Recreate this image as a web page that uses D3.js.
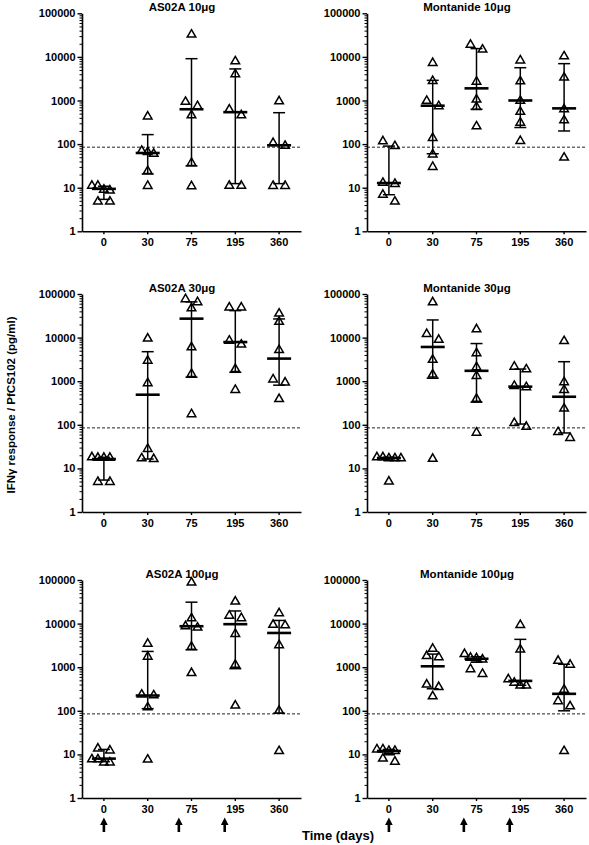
<!DOCTYPE html>
<html>
<head>
<meta charset="utf-8">
<script src="https://cdn.jsdelivr.net/npm/d3@7"></script>
<style>
  html, body { margin: 0; padding: 0; background: #fff; }
  svg { display: block; }
  text { font-family: Arial, "Liberation Sans", sans-serif; font-weight: bold; fill: #000; }
</style>
</head>
<body>
<svg id="chart" width="589" height="845"></svg>
<script>
// ---------------- DATA ----------------
const categories = ["0", "30", "75", "195", "360"];
const categoryDays = [0, 30, 75, 195, 360];
const yTickValues = [1, 10, 100, 1000, 10000, 100000];
const yTickLabels = ["1", "10", "100", "1000", "10000", "100000"];
const cutoff = 85;
const vaccinationDays = [0, 62, 166];

const panelTitles = ["AS02A 10\u03bcg", "Montanide 10\u03bcg", "AS02A 30\u03bcg", "Montanide 30\u03bcg", "AS02A 100\u03bcg", "Montanide 100\u03bcg"];

// individual responses (pg/ml), one list per time point
const pointsAS02A10 = [
  [11.1, 11.1, 9.0, 8.6, 4.8, 4.8],
  [430, 70, 66, 60, 24, 11],
  [32400, 930, 740, 458, 37, 10.8],
  [7900, 4000, 620, 458, 11.1, 11.1],
  [960, 106, 91, 11, 11]
];
const medianAS02A10 = [9.4, 62.5, 630, 540, 94];
const lowerAS02A10  = [5.4, 20.6, 31.6, 12.4, 12.4];
const upperAS02A10  = [10.8, 165, 9100, 5300, 525];

const pointsMont10 = [
  [116, 90, 12.9, 12.2, 6.9, 4.8],
  [7250, 2800, 980, 740, 138, 58, 30],
  [19000, 14700, 2700, 1050, 710, 255],
  [8300, 2750, 980, 550, 310, 118],
  [10300, 3350, 630, 350, 49]
];
const medianMont10 = [12.8, 760, 1900, 1000, 660];
const lowerMont10  = [6.9, 60, 630, 240, 200];
const upperMont10  = [90, 2900, 15500, 5650, 7000];

const pointsAS02A30 = [
  [18, 17.5, 17.5, 17.5, 4.9, 4.9],
  [9500, 2950, 900, 28, 17, 16.4],
  [76000, 65000, 47000, 6000, 1470, 175],
  [49000, 49000, 8500, 6900, 1900, 630],
  [35500, 23000, 5200, 1100, 930, 390]
];
const medianAS02A30 = [16.4, 490, 27200, 7900, 3300];
const lowerAS02A30  = [5.4, 16.4, 1230, 1600, 810];
const upperAS02A30  = [18, 4750, 66000, 41500, 26800];

const pointsMont30 = [
  [18, 18, 17, 17, 17, 5],
  [64500, 12100, 8900, 3100, 1420, 16.6],
  [15500, 4400, 2100, 1320, 395, 66],
  [2150, 1870, 780, 730, 110, 90],
  [8300, 950, 630, 235, 68, 50]
];
const medianMont30 = [17.3, 6100, 1730, 750, 440];
const lowerMont30  = [15.5, 1170, 330, 104, 65];
const upperMont30  = [18, 25400, 7300, 1900, 2800];

const pointsAS02A100 = [
  [13.6, 12.3, 7.7, 7.7, 6.5, 6.5],
  [3450, 1740, 235, 226, 120, 7.6],
  [87000, 13200, 8700, 8100, 2950, 735],
  [32000, 15200, 13300, 5800, 1140, 132],
  [17300, 9400, 9100, 3200, 100, 11.9]
];
const medianAS02A100 = [8, 224, 8700, 9700, 6100];
const lowerAS02A100  = [6.8, 112, 2500, 925, 88];
const upperAS02A100  = [13, 2300, 31000, 19500, 11800];

const pointsMont100 = [
  [13, 13, 12, 12, 8, 6.8],
  [2650, 1800, 1700, 400, 350, 215],
  [2000, 1650, 1600, 1500, 900, 700],
  [9300, 2550, 530, 440, 380, 380],
  [1400, 1140, 305, 166, 127, 11.9]
];
const medianMont100 = [12, 1050, 1560, 485, 245];
const lowerMont100  = [9.8, 320, 1300, 385, 100];
const upperMont100  = [13, 2000, 1740, 4350, 1170];

// ---------------- BUILD ----------------
const panels = [
  { title: panelTitles[0], points: pointsAS02A10, median: medianAS02A10, lower: lowerAS02A10, upper: upperAS02A10 },
  { title: panelTitles[1], points: pointsMont10, median: medianMont10, lower: lowerMont10, upper: upperMont10 },
  { title: panelTitles[2], points: pointsAS02A30, median: medianAS02A30, lower: lowerAS02A30, upper: upperAS02A30 },
  { title: panelTitles[3], points: pointsMont30, median: medianMont30, lower: lowerMont30, upper: upperMont30 },
  { title: panelTitles[4], points: pointsAS02A100, median: medianAS02A100, lower: lowerAS02A100, upper: upperAS02A100 },
  { title: panelTitles[5], points: pointsMont100, median: medianMont100, lower: lowerMont100, upper: upperMont100 }
];

const svg = d3.select("#chart");
const colX = [82, 367];
const rowY = [13.3, 294, 580];
const W = 219, H = 218;

const x = d3.scaleBand().domain(categories).range([0, W]).padding(0);
const y = d3.scaleLog().domain([1, 100000]).range([H, 0]);
const dayToX = d3.scaleLinear().domain(categoryDays).range(categories.map(c => x(c) + x.bandwidth() / 2));

const minorTicks = [];
for (let e = 0; e < 5; e++) for (let m = 2; m <= 9; m++) minorTicks.push(m * Math.pow(10, e));

const tri = d3.symbol().type(d3.symbolTriangle).size(32);

function laneOffsets(n) {
  if (n === 1) return [0];
  if (n === 2) return [-1, 1];
  const start = -Math.floor(n / 2);
  return d3.range(n).map(i => start + i);
}

panels.forEach((p, i) => {
  const col = i % 2, row = Math.floor(i / 2);
  const g = svg.append("g").attr("transform", `translate(${colX[col]},${rowY[row]})`);

  // title
  g.append("text").attr("x", W / 2 - 9.5).attr("y", -2.5)
    .attr("text-anchor", "middle").style("font-size", "11.5px").text(p.title);

  // cutoff line
  g.append("line").attr("x1", 0).attr("x2", W)
    .attr("y1", y(cutoff)).attr("y2", y(cutoff))
    .attr("stroke", "#222").attr("stroke-width", 1).attr("stroke-dasharray", "3,2");

  // minor y ticks
  const minorAxis = g.append("g").call(d3.axisLeft(y).tickValues(minorTicks).tickSize(2.5).tickFormat(""));
  minorAxis.select(".domain").remove();
  minorAxis.selectAll("line").attr("stroke", "#000").attr("stroke-width", 1);

  // major y axis
  const yAxis = g.append("g").call(
    d3.axisLeft(y).tickValues(yTickValues).tickSize(4.5).tickSizeOuter(0).tickPadding(2)
      .tickFormat((d, k) => yTickLabels[k])
  );
  yAxis.select(".domain").attr("stroke", "#000").attr("stroke-width", 1.6);
  yAxis.selectAll(".tick line").attr("stroke", "#000").attr("stroke-width", 1.4);
  yAxis.selectAll("text").style("font-size", "11px").style("font-family", "Arial, 'Liberation Sans', sans-serif").style("font-weight", "bold");

  // x axis
  const xAxis = g.append("g").attr("transform", `translate(0,${H})`).call(
    d3.axisBottom(x).tickSize(3).tickSizeOuter(0).tickPadding(4)
  );
  xAxis.select(".domain").attr("stroke", "#000").attr("stroke-width", 1.6);
  xAxis.selectAll(".tick line").attr("stroke", "#000").attr("stroke-width", 1.4);
  xAxis.selectAll("text").style("font-size", "11px").style("font-family", "Arial, 'Liberation Sans', sans-serif").style("font-weight", "bold");

  categories.forEach((c, k) => {
    const cx = x(c) + x.bandwidth() / 2;
    // error bar
    g.append("line").attr("x1", cx).attr("x2", cx)
      .attr("y1", y(p.lower[k])).attr("y2", y(p.upper[k]))
      .attr("stroke", "#000").attr("stroke-width", 1.5);
    [p.lower[k], p.upper[k]].forEach(v => {
      g.append("line").attr("x1", cx - 6).attr("x2", cx + 6)
        .attr("y1", y(v)).attr("y2", y(v))
        .attr("stroke", "#000").attr("stroke-width", 1.5);
    });
    g.append("line").attr("x1", cx - 12).attr("x2", cx + 12)
      .attr("y1", y(p.median[k])).attr("y2", y(p.median[k]))
      .attr("stroke", "#000").attr("stroke-width", 2.6);

    // points: group into rows of overlapping markers, spread horizontally
    const vals = p.points[k].slice().sort((a, b) => b - a);
    const rows = [];
    vals.forEach(v => {
      const py = y(v);
      const last = rows[rows.length - 1];
      if (last && Math.abs(py - last.y0) < 7) last.items.push(v);
      else rows.push({ y0: py, items: [v] });
    });
    rows.forEach(r => {
      const lanes = laneOffsets(r.items.length);
      r.items.forEach((v, j) => {
        g.append("path").attr("d", tri)
          .attr("transform", `translate(${cx + lanes[j] * 6},${y(v)})`)
          .attr("fill", "none").attr("stroke", "#000").attr("stroke-width", 1.5);
      });
    });
  });

  // vaccination arrows on bottom row
  if (row === 2) {
    vaccinationDays.forEach(d => {
      const ax = dayToX(d);
      const top = H + 19.5, headB = H + 27, bot = H + 34;
      g.append("path")
        .attr("d", `M${ax},${top} L${ax + 3.8},${headB} L${ax + 1.3},${headB} L${ax + 1.3},${bot} L${ax - 1.3},${bot} L${ax - 1.3},${headB} L${ax - 3.8},${headB} Z`)
        .attr("fill", "#000");
    });
  }
});

// y axis label
svg.append("text").attr("transform", "translate(15,405) rotate(-90)")
  .attr("text-anchor", "middle").style("font-size", "11.5px")
  .text("IFN\u03b3 response / PfCS102 (pg/ml)");

// x axis label
svg.append("text").attr("x", 302).attr("y", 840).style("font-size", "13px").text("Time (days)");
</script>
</body>
</html>
